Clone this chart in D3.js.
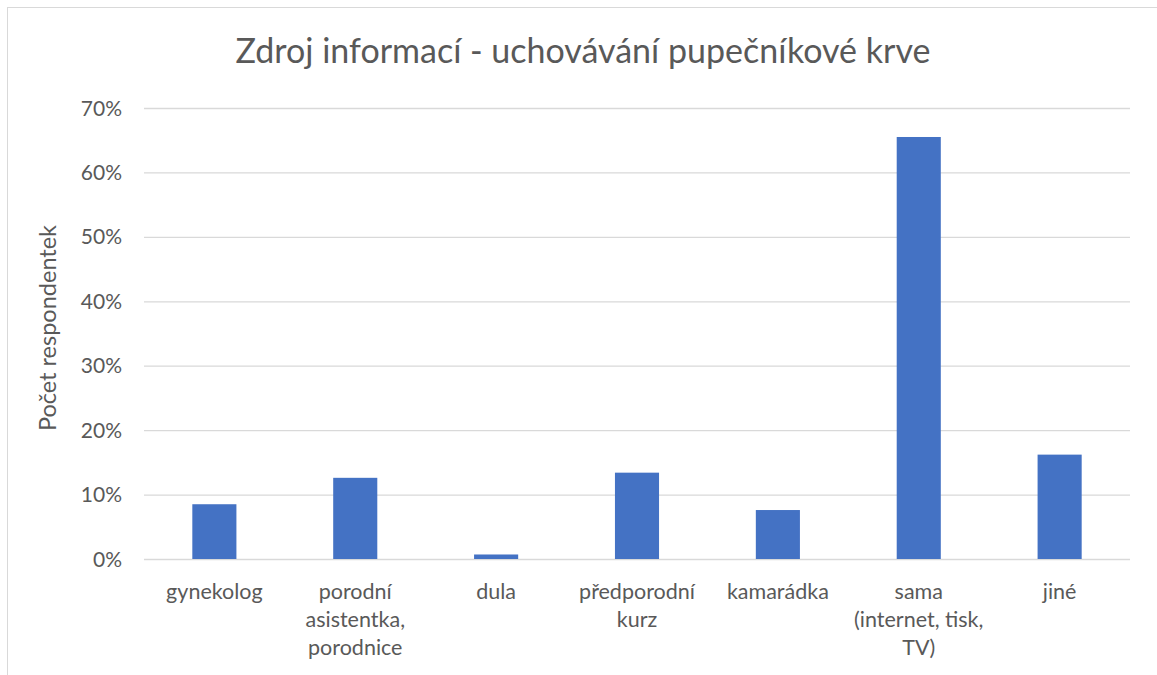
<!DOCTYPE html>
<html>
<head>
<meta charset="utf-8">
<script src="https://cdn.jsdelivr.net/npm/d3@7"></script>
<style>
  body { margin: 0; background: #fff; }
  text { font-family: Lato, "Open Sans", sans-serif; fill: #595959; }
</style>
</head>
<body>
<div id="chart"></div>
<script>
// data
var categories = ["gynekolog", "porodní\nasistentka,\nporodnice", "dula", "předporodní\nkurz", "kamarádka", "sama\n(internet, tisk,\nTV)", "jiné"];
var values = [0.085, 0.126, 0.007, 0.134, 0.076, 0.655, 0.162];
var yTicks = [0, 0.1, 0.2, 0.3, 0.4, 0.5, 0.6, 0.7];
var title = "Zdroj informací - uchovávání pupečníkové krve";
var yTitle = "Počet respondentek";

var width = 1157, height = 675;
var margin = {top: 108, right: 27, bottom: 116, left: 144};

var svg = d3.select("#chart").append("svg")
    .attr("width", width)
    .attr("height", height);

// outer frame
svg.append("rect")
    .attr("x", 7.5).attr("y", 7.5)
    .attr("width", width).attr("height", height)
    .attr("fill", "none")
    .attr("stroke", "#d9d9d9");

var x = d3.scaleBand()
    .domain(categories)
    .range([margin.left, width - margin.right])
    .paddingInner(0.687)
    .paddingOuter(0.343);

var y = d3.scaleLinear()
    .domain([0, 0.7])
    .range([height - margin.bottom, margin.top]);

// grid
var grid = svg.append("g")
    .call(d3.axisLeft(y).tickValues(yTicks).tickSize(-(width - margin.left - margin.right)).tickFormat(d3.format(".0%")))
    .attr("transform", "translate(" + margin.left + ",0)");
grid.select(".domain").remove();
grid.selectAll(".tick line").attr("stroke", "#d9d9d9").attr("stroke-width", 1.3);
grid.selectAll(".tick text")
    .attr("x", -22)
    .attr("dy", "0.34em")
    .style("font-size", "21px");

// bars
svg.append("g")
    .selectAll("rect")
    .data(values)
    .join("rect")
      .attr("x", (d, i) => x(categories[i]))
      .attr("width", x.bandwidth())
      .attr("y", d => y(d))
      .attr("height", d => y(0) - y(d))
      .attr("fill", "#4472c4");

// category labels
var labels = svg.append("g")
    .selectAll("text")
    .data(categories)
    .join("text")
      .attr("text-anchor", "middle")
      .attr("transform", d => "translate(" + (x(d) + x.bandwidth() / 2) + "," + (y(0) + 40) + ")")
      .style("font-size", "21.5px");
labels.selectAll("tspan")
    .data(d => d.split("\n"))
    .join("tspan")
      .attr("x", 0)
      .attr("y", (d, i) => i * 28)
      .text(d => d);

// title
svg.append("text")
    .attr("x", 583)
    .attr("y", 63)
    .attr("text-anchor", "middle")
    .style("font-size", "34px")
    .text(title);

// y axis title
svg.append("text")
    .attr("transform", "translate(56," + 328 + ") rotate(-90)")
    .attr("text-anchor", "middle")
    .style("font-size", "23.5px")
    .text(yTitle);
</script>
</body>
</html>
